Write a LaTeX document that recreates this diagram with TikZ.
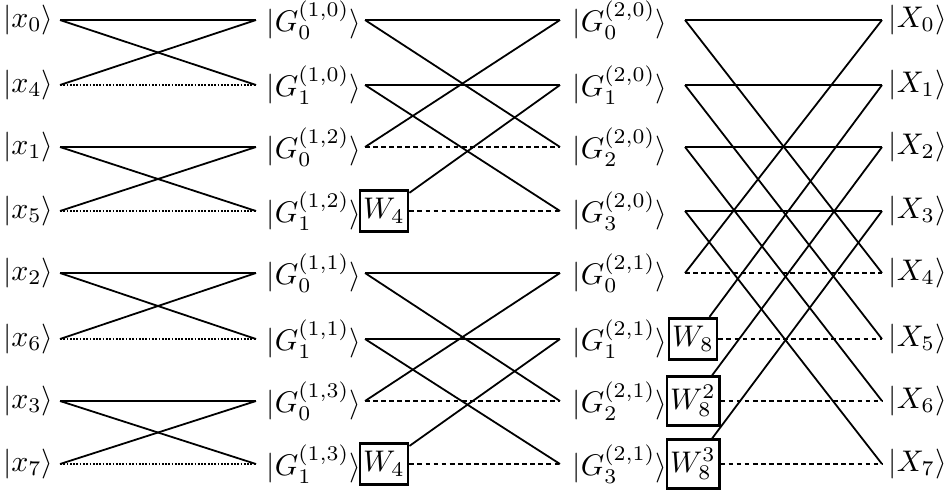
\documentclass[tikz,border=0pt]{standalone}
\begin{document}
\begin{tikzpicture}[x=0.335pt,y=-0.335pt,
  wire/.style={line width=0.6pt},
  dotw/.style={line width=0.6pt, dash pattern=on 0.6pt off 0.5pt},
  dashw/.style={line width=0.6pt, dash pattern=on 1.6pt off 1.1pt},
  wbox/.style={draw, line width=0.9pt, inner xsep=1.1pt, inner ysep=2.8pt},
  lbl/.style={inner sep=0pt}]
\useasboundingbox (0,0) rectangle (944,503);
% inputs
\foreach \i/\y/\k in {0/20/0,1/85/4,2/147/1,3/211/5,4/273/2,5/339/6,6/401/3,7/464/7}{
  \node[lbl,anchor=east] (in\i) at (54,\y) {$|x_{\k}\rangle$};
  \coordinate (a\i) at (60,\y);
  \coordinate (b\i) at (256,\y);
}
% first-stage outputs
\foreach \i/\y/\s/\g in {0/20/0/0,1/85/1/0,2/147/0/2,3/211/1/2,4/273/0/1,5/339/1/1,6/401/0/3,7/464/1/3}{
  \node[lbl,anchor=west] (ga\i) at (266,\y) {$|G_{\s}^{(1,\g)}\rangle$};
  \coordinate (c\i) at (365,\y);
  \coordinate (d\i) at (560,\y);
}
% second-stage outputs
\foreach \i/\y/\s/\g in {0/20/0/0,1/85/1/0,2/147/2/0,3/211/3/0,4/273/0/1,5/339/1/1,6/401/2/1,7/464/3/1}{
  \node[lbl,anchor=west] (gb\i) at (572,\y) {$|G_{\s}^{(2,\g)}\rangle$};
  \coordinate (e\i) at (685,\y);
  \coordinate (f\i) at (882,\y);
}
% outputs
\foreach \i/\y in {0/20,1/85,2/147,3/211,4/273,5/339,6/401,7/464}{
  \node[lbl,anchor=west] (out\i) at (888,\y) {$|X_{\i}\rangle$};
}
% twiddle boxes
\node[wbox] (w4a) at (384,211) {$W_4$};
\node[wbox] (w4b) at (384,464) {$W_4$};
\node[wbox] (w8a) at (693,339) {$W_8$};
\node[wbox] (w8b) at (693,401) {$W_8^2$};
\node[wbox] (w8c) at (693,464) {$W_8^3$};
% stage 1
\foreach \p/\q in {0/1,2/3,4/5,6/7}{
  \draw[wire] (a\p) -- (b\p);
  \draw[wire] (a\p) -- (b\q);
  \draw[wire] (a\q) -- (b\p);
  \draw[dotw] (a\q) -- (b\q);
}
% stage 2
\draw[wire] (c0) -- (d0);
\draw[wire] (c0) -- (d2);
\draw[wire] (c1) -- (d1);
\draw[wire] (c1) -- (d3);
\draw[wire] (c2) -- (d0);
\draw[dashw] (c2) -- (d2);
\draw[wire] (w4a) -- (d1);
\draw[dashw] (w4a.east) -- (d3);
\draw[wire] (c4) -- (d4);
\draw[wire] (c4) -- (d6);
\draw[wire] (c5) -- (d5);
\draw[wire] (c5) -- (d7);
\draw[wire] (c6) -- (d4);
\draw[dashw] (c6) -- (d6);
\draw[wire] (w4b) -- (d5);
\draw[dashw] (w4b.east) -- (d7);
% stage 3
\foreach \p/\q in {0/4,1/5,2/6,3/7}{
  \draw[wire] (e\p) -- (f\p);
  \draw[wire] (e\p) -- (f\q);
}
\draw[wire] (e4) -- (f0);
\draw[dashw] (e4) -- (f4);
\draw[wire] (w8a) -- (f1);
\draw[dashw] (w8a.east) -- (f5);
\draw[wire] (w8b) -- (f2);
\draw[dashw] (w8b.east) -- (f6);
\draw[wire] (w8c) -- (f3);
\draw[dashw] (w8c.east) -- (f7);
\end{tikzpicture}
\end{document}
